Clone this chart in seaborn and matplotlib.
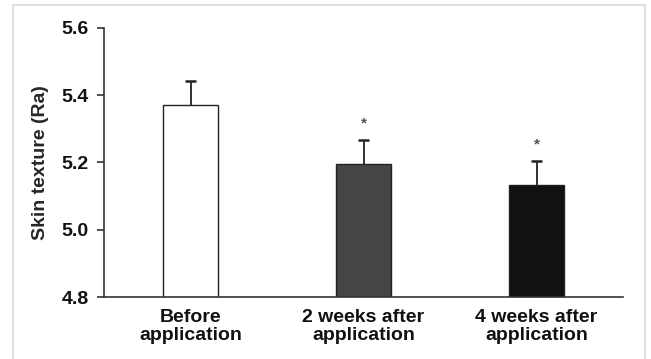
import numpy as np
import pandas as pd
import matplotlib
matplotlib.use('Agg')
import matplotlib.pyplot as plt
import seaborn as sns

# Data
groups = ['Before\napplication', '2 weeks after\napplication', '4 weeks after\napplication']
means = [5.371, 5.196, 5.133]
sd = [0.071, 0.071, 0.071]
significant = [False, True, True]
bar_colors = ['#ffffff', '#454545', '#111111']

sns.set_theme(style='white')
plt.rcParams['font.family'] = ['Liberation Sans', 'DejaVu Sans']

df = pd.DataFrame({'group': groups, 'mean': means})

fig = plt.figure(figsize=(6.51, 3.59), dpi=100)
ax = fig.add_axes([104 / 651, 1 - 297 / 359, 519 / 651, 269 / 359])

# light grey frame around the figure
frame = plt.Rectangle((13 / 651, -0.05), (645 - 13) / 651, 1 - 5 / 359 + 0.05,
                      transform=fig.transFigure, fill=False,
                      edgecolor='#d9d9d9', linewidth=1.2)
fig.patches.append(frame)

sns.barplot(data=df, x='group', y='mean', hue='group', palette=bar_colors,
            legend=False, width=0.32, edgecolor='#222222', linewidth=1.0, ax=ax)

# upper-only error bars with a cap on top
x = np.arange(len(groups))
tops = np.array(means) + np.array(sd)
ax.vlines(x, means, tops, color='#222222', linewidth=1.3, zorder=3)
ax.hlines(tops, x - 0.03, x + 0.03, color='#222222', linewidth=1.8, zorder=3)

for i, (t, sig) in enumerate(zip(tops, significant)):
    if sig:
        ax.text(i, t + 0.05, '*', ha='center', va='center',
                fontsize=11, color='#555555', fontweight='bold')

ax.set_ylim(4.8, 5.6)
ax.set_xlim(-0.5, 2.5)
ax.set_yticks([4.8, 5.0, 5.2, 5.4, 5.6])
ax.set_yticklabels(['4.8', '5.0', '5.2', '5.4', '5.6'], fontweight='bold', fontsize=14)
ax.set_xticks(x)
ax.set_xticklabels(groups, fontweight='bold', fontsize=14, linespacing=1.05)
ax.set_xlabel('')
ax.set_ylabel('Skin texture (Ra)', fontweight='bold', fontsize=14, labelpad=9)

for side in ['top', 'right']:
    ax.spines[side].set_visible(False)
for side in ['left', 'bottom']:
    ax.spines[side].set_color('#333333')
    ax.spines[side].set_linewidth(1.2)

ax.tick_params(axis='y', direction='out', length=5, width=1.2, color='#333333',
               left=True, pad=6, labelcolor='#111111')
ax.tick_params(axis='x', length=0, pad=9, labelcolor='#111111')

fig.savefig('out.png', dpi=100)
